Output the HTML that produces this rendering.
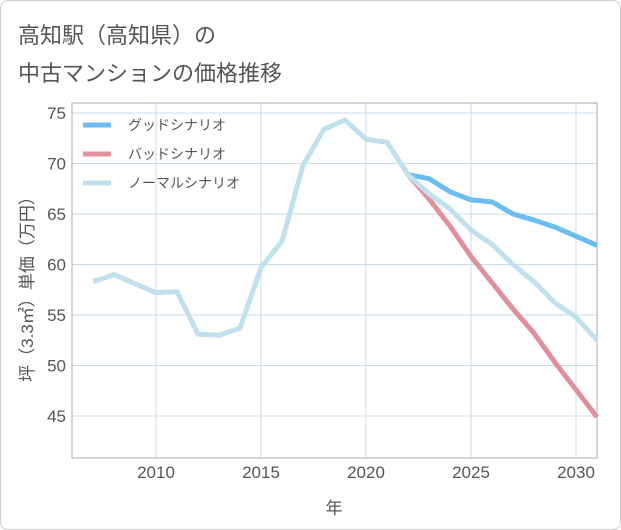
<!DOCTYPE html>
<html><head><meta charset="utf-8"><style>
body{margin:0;background:#fff;font-family:"Liberation Sans","Noto Sans CJK JP",sans-serif;}
#card{position:absolute;left:0;top:0;width:619px;height:528px;border:1px solid #ccc;border-radius:8px;background:#fff;}
.t{position:absolute;left:18px;font-size:22px;color:#555;}
</style></head><body>
<div id="card"></div>
<div class="t" style="top:18px">高知駅（高知県）の</div>
<div class="t" style="top:56px">中古マンションの価格推移</div>
<svg id="c" width="621" height="530" style="position:absolute;left:0;top:0"></svg>
<script>
const years=[2007,2008,2009,2010,2011,2012,2013,2014,2015,2016,2017,2018,2019,2020,2021,2022,2023,2024,2025,2026,2027,2028,2029,2030,2031];
const normal=[58.3,59.0,58.1,57.2,57.3,53.1,53.0,53.7,59.7,62.3,69.8,73.4,74.3,72.4,72.1,68.9,67.0,65.5,63.4,62.0,60.0,58.3,56.2,54.8,52.5];
const goodYears=[2022,2023,2024,2025,2026,2027,2028,2029,2030,2031];
const good=[68.9,68.5,67.2,66.4,66.2,65.0,64.4,63.7,62.8,61.9];
const bad=[68.9,66.5,63.8,60.8,58.2,55.6,53.2,50.3,47.6,44.9];
const yTicks=[45,50,55,60,65,70,75];
const xTicks=[2010,2015,2020,2025,2030];
const NS='http://www.w3.org/2000/svg',svg=document.getElementById('c');
const L=72,R=597,T=103,B=458;
const x=v=>93+(v-2007)*21, y=v=>113+(75-v)*10.1;
function el(t,a){const e=document.createElementNS(NS,t);for(const k in a)e.setAttribute(k,a[k]);svg.appendChild(e);return e;}
for(const v of yTicks){const g=el('line',{x1:L,x2:R,y1:y(v),y2:y(v),stroke:'#c8dbe8','stroke-width':1});


const t=el('text',{x:66,y:y(v)+6,'text-anchor':'end','font-size':17,fill:'#555'});t.textContent=v;

}
for(const v of xTicks){const g=el('line',{x1:x(v),x2:x(v),y1:T,y2:B,stroke:'#c8dbe8','stroke-width':1});


const t=el('text',{x:x(v),y:478,'text-anchor':'middle','font-size':17,fill:'#555'});t.textContent=v;

}
const bx=el('rect',{x:L,y:T,width:R-L,height:B-T,fill:'none',stroke:'#aab','stroke-width':1});


function line(xs,vs,c,n){const p=el('polyline',{points:xs.map((a,i)=>x(a)+','+y(vs[i])).join(' '),fill:'none',stroke:c,'stroke-width':5,'stroke-linejoin':'round'});

}
line(goodYears,good,'#6bbcf0','good-scenario-line');
line(goodYears,bad,'#e0909a','bad-scenario-line');
line(years,normal,'#bfe0ec','normal-scenario-line');
const leg=[['グッドシナリオ','#6bbcf0',125],['バッドシナリオ','#e0909a',154],['ノーマルシナリオ','#bfe0ec',183]];
for(const [n,c,yy] of leg){const l=el('line',{x1:83,x2:111,y1:yy,y2:yy,stroke:c,'stroke-width':5});


const t=el('text',{x:128,y:yy+5,'font-size':14,fill:'#555'});t.textContent=n;

}
const yt=el('text',{x:0,y:0,'font-size':17,fill:'#555','text-anchor':'middle',transform:'translate(33,285) rotate(-90)'});yt.textContent='坪（3.3㎡）単価（万円）';


const xt=el('text',{x:334,y:514,'font-size':17,fill:'#555','text-anchor':'middle'});xt.textContent='年';


</script>
</body></html>
